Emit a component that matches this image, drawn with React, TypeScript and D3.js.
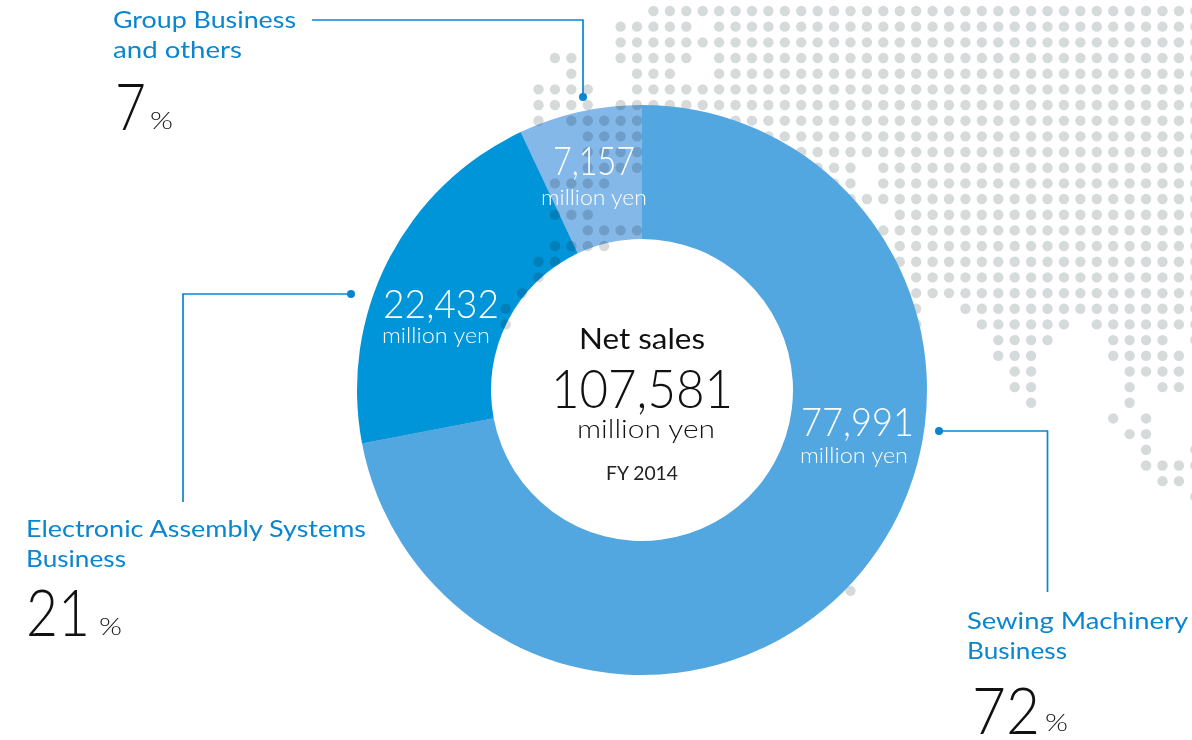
import React from "react";
import * as d3 from "d3";

const WIDTH = 1192;
const HEIGHT = 740;

// Segment shares and the figures printed on them
const segments = ["Sewing Machinery Business", "Electronic Assembly Systems Business", "Group Business and others"];
const sharePercent = [72, 21, 7];
const salesMillionYen = ["77,991", "22,432", "7,157"];
const segmentColors = ["#52a7e0", "#0095d9", "#83b8e8"];

// Dot-matrix world map: one entry per grid row, each a list of [firstColumn, lastColumn] runs
const landRows: [number, number][][] = [
  [[7, 40]],
  [[5, 9], [11, 40]],
  [[5, 40]],
  [[1, 2], [5, 9], [11, 40]],
  [[2, 2], [6, 8], [11, 40]],
  [[0, 3], [6, 40]],
  [[0, 3], [5, 40]],
  [[0, 0], [2, 6], [12, 40]],
  [[3, 6], [13, 40]],
  [[3, 6], [14, 40]],
  [[3, 6], [14, 19], [21, 40]],
  [[1, 4], [15, 19], [21, 40]],
  [[16, 40]],
  [[1, 3], [22, 40]],
  [[3, 6], [21, 40]],
  [[1, 4], [22, 40]],
  [[0, 1], [22, 40]],
  [[0, 0], [23, 40]],
  [[-1, -1], [23, 40]],
  [[-2, -2], [23, 23], [26, 40]],
  [[-2, -2], [23, 23], [27, 32], [34, 40]],
  [[28, 31], [35, 38], [40, 40]],
  [[28, 30], [35, 39]],
  [[29, 30], [36, 39]],
  [[29, 30], [36, 36], [38, 39]],
  [[30, 30], [36, 36]],
  [[35, 35], [37, 37]],
  [[36, 37]],
  [[37, 37], [40, 40]],
  [[37, 40]],
  [[38, 39]],
  [[40, 40]],
  [],
  [],
  [],
  [],
  [],
  [[19, 19]],
];

const columnX = d3.scaleLinear().domain([0, 39]).range([538.5, 1178.9]);
const rowY = d3.scaleLinear().domain([0, 31]).range([11, 496.8]);

const landDots = landRows.flatMap((runs, row) =>
  runs.flatMap(([from, to]) => d3.range(from, to + 1).map((col) => ({ row, col })))
);

const pieLayout = d3.pie<number>().sort(null).value((d) => d);
const ringArc = d3.arc<d3.PieArcDatum<number>>().innerRadius(151).outerRadius(285);

const LABEL_BLUE = "#0a85d0";
const FONT = "Lato, 'Open Sans', sans-serif";

type TextProps = {
  x: number;
  y: number;
  w: number;
  size: number;
  fill: string;
  weight?: number;
  children: string;
};

// Text fitted to a known width so the wider geometric letterforms keep their extent
function Fit({ x, y, w, size, fill, weight = 400, children }: TextProps) {
  return (
    <text
      x={x}
      y={y}
      textLength={w}
      lengthAdjust="spacingAndGlyphs"
      fontSize={size}
      fontWeight={weight}
      fill={fill}
      fontFamily={FONT}
    >
      {children}
    </text>
  );
}

function Leader({ points }: { points: [number, number][] }) {
  const line = d3.line();
  const [dx, dy] = points[0];
  return (
    <g>
      <path d={line(points) ?? ""} fill="none" stroke={LABEL_BLUE} strokeWidth={1.7} />
      <circle cx={dx} cy={dy} r={4} fill={LABEL_BLUE} />
    </g>
  );
}

export default function App() {
  const arcs = pieLayout(sharePercent);
  return (
    <svg
      width={WIDTH}
      height={HEIGHT}
      viewBox={`0 0 ${WIDTH} ${HEIGHT}`}
      style={{ position: "absolute", left: 0, top: 0, background: "#fff" }}
    >
      <rect width={WIDTH} height={HEIGHT} fill="#fff" />

      <g fill="#d7dadb">
        {landDots.map((d) => (
          <circle key={`${d.row}-${d.col}`} cx={columnX(d.col)} cy={rowY(d.row)} r={5.2} />
        ))}
      </g>

      <g transform="translate(642,390)">
        {arcs.map((a, i) => (
          <path
            key={segments[i]}
            d={ringArc(a) ?? ""}
            fill={segmentColors[i]}
            style={i === 0 ? undefined : { mixBlendMode: "multiply" }}
          />
        ))}
      </g>

      {/* Figures printed on the ring */}
      <Fit x={801} y={436} w={113} size={39} weight={300} fill="#fff">{salesMillionYen[0]}</Fit>
      <Fit x={800} y={463} w={108} size={21} weight={300} fill="#fff">million yen</Fit>
      <Fit x={383} y={318} w={116} size={39} weight={300} fill="#fff">{salesMillionYen[1]}</Fit>
      <Fit x={382} y={343} w={108} size={21} weight={300} fill="#fff">million yen</Fit>
      <Fit x={553} y={175} w={82} size={39} weight={300} fill="#fff">{salesMillionYen[2]}</Fit>
      <Fit x={541} y={205} w={106} size={21} weight={300} fill="#fff">million yen</Fit>

      {/* Total in the hole */}
      <Fit x={579} y={349} w={126} size={28} fill="#111">Net sales</Fit>
      <Fit x={551} y={408} w={182} size={53} weight={300} fill="#111">107,581</Fit>
      <Fit x={577} y={438} w={138} size={26} weight={300} fill="#111">million yen</Fit>
      <Fit x={606} y={480} w={72} size={19} fill="#222">FY 2014</Fit>

      {/* Leader lines */}
      <Leader points={[[583, 97], [583, 20], [312, 20]]} />
      <Leader points={[[351, 294], [183, 294], [183, 502]]} />
      <Leader points={[[939, 431], [1047.5, 431], [1047.5, 592]]} />

      {/* Segment captions */}
      <Fit x={113} y={28} w={183} size={24} fill={LABEL_BLUE}>Group Business</Fit>
      <Fit x={113} y={58} w={129} size={24} fill={LABEL_BLUE}>and others</Fit>
      <Fit x={115} y={130} w={31} size={66} weight={300} fill="#111">{`${sharePercent[2]}`}</Fit>
      <Fit x={150} y={129} w={23} size={24} weight={300} fill="#111">%</Fit>

      <Fit x={26} y={537} w={340} size={24} fill={LABEL_BLUE}>Electronic Assembly Systems</Fit>
      <Fit x={26} y={567} w={100} size={24} fill={LABEL_BLUE}>Business</Fit>
      <Fit x={26} y={636} w={64} size={66} weight={300} fill="#111">{`${sharePercent[1]}`}</Fit>
      <Fit x={99} y={635} w={23} size={24} weight={300} fill="#111">%</Fit>

      <Fit x={967} y={629} w={221} size={24} fill={LABEL_BLUE}>Sewing Machinery</Fit>
      <Fit x={967} y={659} w={100} size={24} fill={LABEL_BLUE}>Business</Fit>
      <Fit x={972} y={734} w={68} size={66} weight={300} fill="#111">{`${sharePercent[0]}`}</Fit>
      <Fit x={1045} y={731} w={23} size={24} weight={300} fill="#111">%</Fit>
    </svg>
  );
}
